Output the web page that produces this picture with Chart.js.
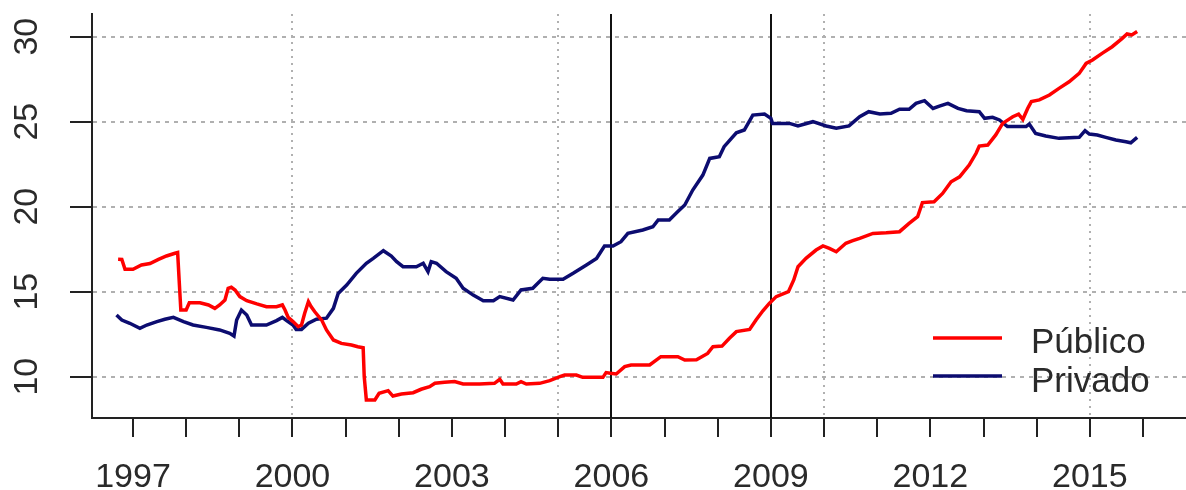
<!DOCTYPE html>
<html>
<head>
<meta charset="utf-8">
<script src="https://cdn.jsdelivr.net/npm/chart.js@4/dist/chart.umd.min.js"></script>
<style>
  html, body { margin: 0; padding: 0; background: #ffffff; }
  #wrap { width: 1186px; height: 490px; }
</style>
</head>
<body>
<div id="wrap"><canvas id="c" width="1186" height="490"></canvas></div>
<script>
// ---- data ----
const seriesNames = ["Público", "Privado"];
const seriesColors = ["#ff0000", "#0c0c70"];

const publicoDates = [1996.72,1996.79,1996.85,1997.00,1997.16,1997.32,1997.48,1997.63,1997.79,1997.84,1997.87,1997.90,1998.00,1998.06,1998.26,1998.42,1998.54,1998.63,1998.73,1998.79,1998.85,1998.92,1999.01,1999.14,1999.33,1999.51,1999.70,1999.81,1999.86,1999.92,2000.01,2000.11,2000.17,2000.23,2000.30,2000.35,2000.42,2000.55,2000.64,2000.77,2000.92,2001.11,2001.23,2001.33,2001.35,2001.39,2001.55,2001.63,2001.80,2001.89,2002.05,2002.27,2002.42,2002.58,2002.68,2002.86,2003.05,2003.21,2003.52,2003.80,2003.90,2003.96,2004.21,2004.30,2004.40,2004.65,2004.84,2005.03,2005.12,2005.34,2005.46,2005.84,2005.90,2005.98,2006.09,2006.25,2006.37,2006.72,2006.93,2007.25,2007.38,2007.60,2007.81,2007.91,2008.08,2008.22,2008.35,2008.60,2008.72,2008.85,2008.97,2009.10,2009.33,2009.43,2009.51,2009.66,2009.85,2009.98,2010.10,2010.23,2010.41,2010.54,2010.67,2010.92,2011.17,2011.42,2011.60,2011.76,2011.85,2012.07,2012.23,2012.39,2012.55,2012.73,2012.86,2012.92,2013.08,2013.23,2013.36,2013.55,2013.66,2013.74,2013.83,2013.90,2014.05,2014.24,2014.42,2014.61,2014.80,2014.93,2015.05,2015.23,2015.42,2015.61,2015.70,2015.79,2015.89];
const publicoValues = [16.91,16.90,16.32,16.32,16.57,16.66,16.90,17.10,17.26,17.30,15.59,13.92,13.92,14.35,14.35,14.22,14.02,14.22,14.51,15.20,15.26,15.10,14.71,14.47,14.28,14.12,14.12,14.22,13.92,13.49,13.24,12.94,13.04,13.73,14.41,14.12,13.82,13.33,12.75,12.16,11.96,11.86,11.76,11.70,10.00,8.63,8.63,9.02,9.18,8.86,8.98,9.06,9.26,9.41,9.61,9.67,9.71,9.57,9.57,9.61,9.85,9.57,9.57,9.71,9.57,9.61,9.77,10.00,10.10,10.10,9.96,9.96,10.24,10.20,10.16,10.59,10.69,10.69,11.18,11.18,10.98,11.00,11.37,11.76,11.80,12.26,12.65,12.78,13.33,13.88,14.31,14.71,15.00,15.69,16.47,16.96,17.45,17.69,17.55,17.35,17.85,18.00,18.14,18.43,18.47,18.53,19.02,19.41,20.24,20.29,20.78,21.47,21.76,22.45,23.14,23.57,23.63,24.22,24.90,25.29,25.45,25.14,25.78,26.18,26.28,26.57,26.96,27.35,27.84,28.43,28.63,29.02,29.41,29.90,30.16,30.10,30.30];

const privadoDates = [1996.69,1996.79,1996.94,1997.13,1997.26,1997.45,1997.60,1997.76,1997.95,1998.13,1998.38,1998.63,1998.82,1998.90,1998.95,1999.04,1999.14,1999.23,1999.51,1999.70,1999.81,1999.89,2000.01,2000.07,2000.17,2000.30,2000.45,2000.64,2000.77,2000.86,2001.02,2001.20,2001.39,2001.52,2001.71,2001.86,2001.96,2002.08,2002.33,2002.46,2002.55,2002.61,2002.71,2002.89,2003.08,2003.21,2003.40,2003.59,2003.78,2003.90,2004.15,2004.30,2004.52,2004.71,2004.84,2005.09,2005.28,2005.53,2005.72,2005.87,2006.03,2006.18,2006.31,2006.59,2006.78,2006.88,2007.09,2007.25,2007.38,2007.53,2007.72,2007.85,2008.03,2008.12,2008.35,2008.50,2008.66,2008.88,2009.00,2009.03,2009.35,2009.51,2009.79,2010.04,2010.23,2010.47,2010.67,2010.84,2011.05,2011.26,2011.42,2011.60,2011.73,2011.89,2012.05,2012.17,2012.33,2012.52,2012.68,2012.92,2013.02,2013.17,2013.30,2013.45,2013.80,2013.86,2013.98,2014.17,2014.42,2014.80,2014.91,2014.99,2015.14,2015.30,2015.49,2015.68,2015.77,2015.89];
const privadoValues = [13.63,13.33,13.14,12.84,13.04,13.24,13.38,13.49,13.24,13.04,12.90,12.75,12.55,12.39,13.33,13.92,13.63,13.04,13.04,13.30,13.49,13.30,13.04,12.78,12.78,13.14,13.38,13.44,14.02,14.90,15.39,16.08,16.67,16.96,17.41,17.10,16.77,16.47,16.47,16.67,16.18,16.77,16.67,16.18,15.79,15.20,14.80,14.47,14.47,14.71,14.51,15.10,15.20,15.79,15.73,15.73,16.08,16.57,16.96,17.69,17.69,17.94,18.43,18.63,18.82,19.22,19.22,19.71,20.10,20.98,21.86,22.84,22.94,23.53,24.35,24.51,25.39,25.45,25.20,24.90,24.90,24.75,25.00,24.75,24.61,24.75,25.29,25.59,25.45,25.49,25.73,25.73,26.08,26.24,25.78,25.92,26.08,25.78,25.65,25.59,25.20,25.26,25.10,24.71,24.71,24.86,24.31,24.16,24.02,24.08,24.47,24.27,24.22,24.08,23.92,23.82,23.76,24.08];

const tickYears = [1997,1998,1999,2000,2001,2002,2003,2004,2005,2006,2007,2008,2009,2010,2011,2012,2013,2014,2015,2016];
const labelYears = [1997,2000,2003,2006,2009,2012,2015];
const gridYears = [2000,2005,2010,2015];
const yTicks = [10,15,20,25,30];
const markerYears = [2006,2009];

// ---- chart ----
const FONT = '"Liberation Sans", Arial, sans-serif';
const TEXT = '#2a2a2a';
const AXIS = '#222222';
const GRID = '#b0b0b0';

function toPoints(xs, ys) { return xs.map((x, i) => ({x: x, y: ys[i]})); }

const markerPlugin = {
  id: 'markers',
  beforeDatasetsDraw(chart) {
    const {ctx, chartArea, scales} = chart;
    ctx.save();
    ctx.strokeStyle = '#111111';
    ctx.lineWidth = 2;
    markerYears.forEach(y => {
      const px = Math.round(scales.x.getPixelForValue(y));
      ctx.beginPath();
      ctx.moveTo(px, chartArea.top);
      ctx.lineTo(px, chartArea.bottom);
      ctx.stroke();
    });
    ctx.restore();
  }
};

const legendPlugin = {
  id: 'customLegend',
  afterDraw(chart) {
    const ctx = chart.ctx;
    const rows = [{lineY: 338, textY: 353}, {lineY: 376, textY: 392}];
    ctx.save();
    chart.data.datasets.forEach((ds, i) => {
      const r = rows[i];
      ctx.strokeStyle = ds.borderColor;
      ctx.lineWidth = 3.5;
      ctx.beginPath();
      ctx.moveTo(933, r.lineY);
      ctx.lineTo(1002, r.lineY);
      ctx.stroke();
      ctx.fillStyle = TEXT;
      ctx.font = '35px ' + FONT;
      ctx.textAlign = 'left';
      ctx.textBaseline = 'alphabetic';
      ctx.fillText(ds.label, 1031, r.textY);
    });
    ctx.restore();
  }
};

new Chart(document.getElementById('c'), {
  type: 'line',
  data: {
    datasets: [
      { label: seriesNames[0], data: toPoints(publicoDates, publicoValues), borderColor: seriesColors[0], borderWidth: 3.5, pointRadius: 0, tension: 0, fill: false },
      { label: seriesNames[1], data: toPoints(privadoDates, privadoValues), borderColor: seriesColors[1], borderWidth: 3.5, pointRadius: 0, tension: 0, fill: false }
    ]
  },
  options: {
    responsive: false,
    animation: false,
    devicePixelRatio: 1,
    layout: { padding: { top: 14, left: 0, right: 0, bottom: 0 } },
    plugins: { legend: { display: false }, tooltip: { enabled: false } },
    scales: {
      x: {
        type: 'linear',
        min: 1996.229,
        max: 2016.809,
        afterBuildTicks: s => { s.ticks = tickYears.map(v => ({value: v})); },
        afterFit: s => { s.height = 72; s.paddingLeft = 0; s.paddingRight = 0; },
        ticks: {
          autoSkip: false, maxRotation: 0, minRotation: 0, padding: 20,
          color: TEXT, font: { family: FONT, size: 34 },
          callback: v => labelYears.includes(v) ? String(v) : ''
        },
        grid: {
          drawOnChartArea: true, drawTicks: true, tickLength: 19,
          tickColor: AXIS, tickWidth: 2, lineWidth: 2,
          color: c => (c.tick && gridYears.includes(c.tick.value)) ? GRID : 'rgba(0,0,0,0)'
        },
        border: { display: true, color: AXIS, width: 2, dash: [2, 5] }
      },
      y: {
        type: 'linear',
        min: 7.57,
        max: 31.335,
        afterBuildTicks: s => { s.ticks = yTicks.map(v => ({value: v})); },
        afterFit: s => { s.width = 92; s.paddingTop = 0; s.paddingBottom = 0; },
        ticks: {
          minRotation: 90, maxRotation: 90, crossAlign: 'center', padding: 23,
          color: TEXT, font: { family: FONT, size: 34 },
          callback: v => String(v)
        },
        grid: {
          drawOnChartArea: true, drawTicks: true, tickLength: 22,
          tickColor: AXIS, tickWidth: 2, lineWidth: 2, color: GRID
        },
        border: { display: true, color: AXIS, width: 2, dash: [4, 5] }
      }
    }
  },
  plugins: [markerPlugin, legendPlugin]
});
</script>
</body>
</html>
